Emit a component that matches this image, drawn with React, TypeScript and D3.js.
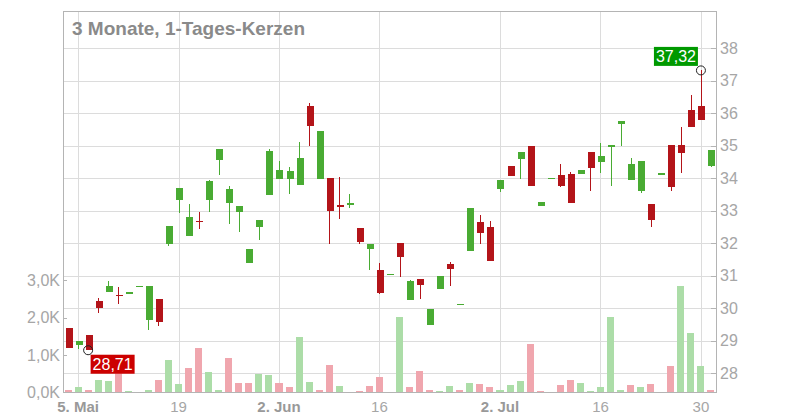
import { useEffect, useRef } from "react";
import * as d3 from "d3";

const dates = [
    "02.05", "05.05", "06.05", "07.05", "08.05", "09.05", "12.05", "13.05", "14.05", "15.05", "16.05",
    "19.05", "20.05", "21.05", "22.05", "23.05", "26.05", "27.05", "28.05", "29.05", "30.05",
    "02.06", "03.06", "04.06", "05.06", "06.06", "09.06", "10.06", "11.06", "12.06", "13.06",
    "16.06", "17.06", "18.06", "19.06", "20.06", "23.06", "24.06", "25.06", "26.06", "27.06",
    "30.06", "01.07", "02.07", "03.07", "04.07", "07.07", "08.07", "09.07", "10.07", "11.07",
    "14.07", "15.07", "16.07", "17.07", "18.07", "21.07", "22.07", "23.07", "24.07", "25.07",
    "28.07", "29.07", "30.07", "31.07",
];

const open = [
    29.39, 28.88, 29.18, 30.22, 30.51, 30.42, 30.48, 30.67, 29.65, 30.29, 31.99,
    33.34, 32.23, 32.70, 33.34, 34.57, 33.25, 32.97, 31.40, 32.51, 33.48,
    33.99, 33.99, 33.80, 36.23, 33.99, 34.01, 33.18, 33.22, 32.47, 31.84,
    31.18, 31.04, 32.01, 30.26, 30.90, 29.50, 30.60, 31.36, 30.12, 31.77,
    32.66, 32.50, 33.68, 34.38, 34.60, 35.00, 33.16, 33.99, 34.10, 34.13,
    34.14, 34.81, 34.51, 34.97, 35.68, 33.96, 33.62, 33.21, 34.14, 35.02,
    35.02, 36.10, 36.23, 34.39,
];
const high = [
    29.39, 28.99, 29.18, 30.33, 30.84, 30.66, 30.50, 30.69, 30.70, 30.29, 32.53,
    33.70, 33.21, 32.96, 33.95, 34.90, 33.76, 33.15, 31.82, 32.72, 34.90,
    34.53, 34.35, 35.12, 36.32, 35.46, 34.01, 34.04, 33.52, 32.47, 31.98,
    31.39, 31.06, 32.01, 30.87, 30.90, 29.98, 30.99, 31.42, 30.14, 33.09,
    32.87, 32.69, 33.95, 34.38, 34.81, 35.00, 33.27, 34.01, 34.44, 34.19,
    34.26, 34.81, 35.09, 35.03, 35.76, 34.62, 34.53, 33.21, 34.16, 35.02,
    35.59, 36.56, 37.32, 34.87,
];
const low = [
    28.79, 28.75, 28.71, 29.86, 30.51, 30.14, 30.48, 30.67, 29.33, 29.46, 31.93,
    32.94, 32.23, 32.45, 32.97, 34.11, 32.59, 32.36, 31.40, 32.11, 33.48,
    33.99, 33.53, 33.80, 34.99, 33.99, 31.99, 32.76, 33.10, 31.99, 31.19,
    30.44, 31.04, 30.97, 30.26, 30.30, 29.50, 30.60, 30.70, 30.12, 31.77,
    31.99, 31.46, 33.59, 34.08, 33.98, 33.77, 33.16, 33.99, 33.73, 33.25,
    34.14, 33.62, 34.17, 33.77, 35.00, 33.96, 33.56, 32.51, 34.14, 33.62,
    34.17, 35.59, 35.80, 34.36,
];
const close = [
    28.79, 28.99, 28.72, 30.02, 30.69, 30.40, 30.50, 30.69, 30.70, 29.59, 32.53,
    33.70, 32.81, 32.68, 33.92, 34.90, 33.67, 33.15, 31.82, 32.72, 34.84,
    34.26, 34.22, 34.62, 35.62, 35.46, 33.00, 33.13, 33.24, 32.05, 31.98,
    30.48, 31.06, 31.59, 30.84, 30.73, 29.98, 30.99, 31.22, 30.14, 33.09,
    32.33, 31.46, 33.95, 34.08, 34.81, 33.77, 33.27, 34.01, 33.77, 33.25,
    34.26, 34.33, 34.69, 35.03, 35.76, 34.44, 34.53, 32.73, 34.16, 33.74,
    34.79, 35.59, 35.80, 34.87,
];
const volume = [
    80, 134, 54, 321, 295, 590, 27, 8, 54, 321, 857,
    214, 643, 1179, 536, 80, 911, 241, 241, 482, 455,
    241, 134, 1473, 268, 54, 723, 161, 8, 27, 161,
    402, 5, 2009, 134, 563, 54, 27, 161, 54, 241,
    214, 134, 54, 188, 295, 1286, 27, 8, 188, 321,
    241, 27, 134, 2009, 80, 188, 134, 214, 8, 696,
    2840, 1580, 696, 80,
];
// close of the day before the first candle
const prevClose = 29.3;

const tickDates = ["05.05", "19.05", "02.06", "16.06", "02.07", "16.07", "30.07"];
const tickLabels = ["5. Mai", "19", "2. Jun", "16", "2. Jul", "16", "30"];
const priceTicks = [28, 29, 30, 31, 32, 33, 34, 35, 36, 37, 38];
const volumeTicks = [0, 1000, 2000, 3000];

const title = "3 Monate, 1-Tages-Kerzen";

export default function App() {
    const chartRef = useRef<SVGSVGElement | null>(null);

    useEffect(() => {
        if (!chartRef.current) return;

        const width = 800;
        const height = 420;
        const left = 63;
        const right = 716;
        const top = 11;
        const bottom = 392;
        const font = "'Liberation Sans', Arial, sans-serif";
        const up = "#49ab33";
        const down = "#b31419";

        const svg = d3.select(chartRef.current);
        svg.selectAll("*").remove();
        svg.attr("width", width).attr("height", height).style("font-family", font);

        const x = d3.scalePoint<string>().domain(dates).range([left, right]).padding(0.5);
        const step = x.step();
        const bodyW = step * 0.7;
        const y = d3.scaleLinear().domain([28, 38]).range([373.3, 48.3]);
        const yVol = d3.scaleLinear().domain([0, 3000]).range([392.5, 280.3]);

        const grid = svg.append("g").attr("shape-rendering", "crispEdges");
        grid.selectAll("line.h")
            .data(priceTicks)
            .join("line")
            .attr("x1", left)
            .attr("x2", right)
            .attr("y1", (d) => Math.round(y(d)) + 0.5)
            .attr("y2", (d) => Math.round(y(d)) + 0.5)
            .attr("stroke", "#dcdcdc");
        grid.selectAll("line.v")
            .data(tickDates)
            .join("line")
            .attr("x1", (d) => Math.round(x(d)!) + 0.5)
            .attr("x2", (d) => Math.round(x(d)!) + 0.5)
            .attr("y1", top)
            .attr("y2", bottom)
            .attr("stroke", "#dcdcdc");

        // volume bars
        svg.append("g")
            .attr("shape-rendering", "crispEdges")
            .selectAll("rect")
            .data(dates)
            .join("rect")
            .attr("x", (d) => x(d)! - bodyW / 2)
            .attr("width", bodyW)
            .attr("y", (_, i) => yVol(volume[i]))
            .attr("height", (_, i) => yVol(0) - yVol(volume[i]))
            .attr("fill", (_, i) => (close[i] >= (i === 0 ? prevClose : close[i - 1]) ? "#acdda8" : "#f0a6ae"));

        // candles
        const candles = svg.append("g")
            .selectAll("g")
            .data(dates)
            .join("g")
            .attr("shape-rendering", "crispEdges");
        const col = (i: number) => (close[i] >= open[i] ? up : down);
        candles.append("line")
            .attr("x1", (d) => Math.round(x(d)!) + 0.5)
            .attr("x2", (d) => Math.round(x(d)!) + 0.5)
            .attr("y1", (_, i) => y(high[i]))
            .attr("y2", (_, i) => y(low[i]))
            .attr("stroke", (_, i) => col(i))
            .attr("stroke-width", 1);
        candles.append("rect")
            .attr("x", (d) => Math.round(x(d)! - bodyW / 2) + 0.5)
            .attr("width", Math.round(bodyW))
            .attr("y", (_, i) => y(Math.max(open[i], close[i])))
            .attr("height", (_, i) => Math.max(1.5, Math.abs(y(open[i]) - y(close[i]))))
            .attr("fill", (_, i) => col(i));

        // frame
        const frame = svg.append("g").attr("shape-rendering", "crispEdges").attr("stroke", "#b4b4b4");
        frame.append("line").attr("x1", left).attr("x2", right).attr("y1", top + 0.5).attr("y2", top + 0.5);
        frame.append("line").attr("x1", left + 0.5).attr("x2", left + 0.5).attr("y1", top).attr("y2", bottom);
        frame.append("line").attr("x1", right + 0.5).attr("x2", right + 0.5).attr("y1", top).attr("y2", bottom);
        frame.append("line").attr("x1", left).attr("x2", right + 1).attr("y1", bottom + 0.5).attr("y2", bottom + 0.5);

        // price axis
        const pAxis = svg.append("g");
        pAxis.selectAll("line")
            .data(priceTicks)
            .join("line")
            .attr("shape-rendering", "crispEdges")
            .attr("x1", right - 5)
            .attr("x2", right)
            .attr("y1", (d) => Math.round(y(d)) + 0.5)
            .attr("y2", (d) => Math.round(y(d)) + 0.5)
            .attr("stroke", "#b4b4b4");
        pAxis.selectAll("text")
            .data(priceTicks)
            .join("text")
            .attr("x", right + 4)
            .attr("y", (d) => y(d))
            .attr("dy", "0.35em")
            .attr("font-size", 16)
            .attr("fill", "#a6a6a6")
            .text((d) => d);

        // volume axis
        const vAxis = svg.append("g");
        vAxis.selectAll("line")
            .data(volumeTicks.slice(1))
            .join("line")
            .attr("shape-rendering", "crispEdges")
            .attr("x1", left)
            .attr("x2", left + 4)
            .attr("y1", (d) => Math.round(yVol(d)) + 0.5)
            .attr("y2", (d) => Math.round(yVol(d)) + 0.5)
            .attr("stroke", "#b4b4b4");
        vAxis.selectAll("text")
            .data(volumeTicks)
            .join("text")
            .attr("x", left - 3)
            .attr("y", (d) => yVol(d))
            .attr("dy", "0.35em")
            .attr("text-anchor", "end")
            .attr("font-size", 16)
            .attr("fill", "#a6a6a6")
            .text((d) => (d / 1000).toFixed(1).replace(".", ",") + "K");

        // date axis
        svg.append("g")
            .selectAll("text")
            .data(tickDates)
            .join("text")
            .attr("x", (d) => x(d)!)
            .attr("y", 412)
            .attr("text-anchor", "middle")
            .attr("font-size", 15)
            .attr("font-weight", (_, i) => (tickLabels[i].includes(".") ? "bold" : "normal"))
            .attr("fill", (_, i) => (tickLabels[i].includes(".") ? "#999" : "#a6a6a6"))
            .text((_, i) => tickLabels[i]);

        svg.append("text")
            .attr("x", 72)
            .attr("y", 35)
            .attr("font-size", 19)
            .attr("font-weight", "bold")
            .attr("fill", "#8a8a8a")
            .text(title);

        // high / low markers
        const hiIdx = d3.maxIndex(high);
        const loIdx = d3.minIndex(low);
        const fmt = (v: number) => v.toFixed(2).replace(".", ",");
        const marker = (i: number, v: number, fill: string, isHigh: boolean) => {
            const cx = x(dates[i])!;
            const cy = y(v);
            const g = svg.append("g");
            const bw = 44;
            const bh = 19;
            const bx = isHigh ? cx - 3 - bw : cx + 2.5;
            const by = isHigh ? cy - 4.5 - bh : cy + 4.5;
            g.append("rect").attr("x", bx).attr("y", by).attr("width", bw).attr("height", bh).attr("fill", fill);
            g.append("text")
                .attr("x", bx + bw / 2)
                .attr("y", by + bh / 2)
                .attr("dy", "0.36em")
                .attr("text-anchor", "middle")
                .attr("font-size", 16)
                .attr("fill", "#fff")
                .text(fmt(v));
            g.append("circle").attr("cx", cx).attr("cy", cy).attr("r", 4.5).attr("fill", "none").attr("stroke", "#222");
        };
        marker(hiIdx, high[hiIdx], "#009900", true);
        marker(loIdx, low[loIdx], "#cc0000", false);
    }, []);

    return <svg ref={chartRef} style={{ position: "absolute", left: 0, top: 0 }} />;
}
